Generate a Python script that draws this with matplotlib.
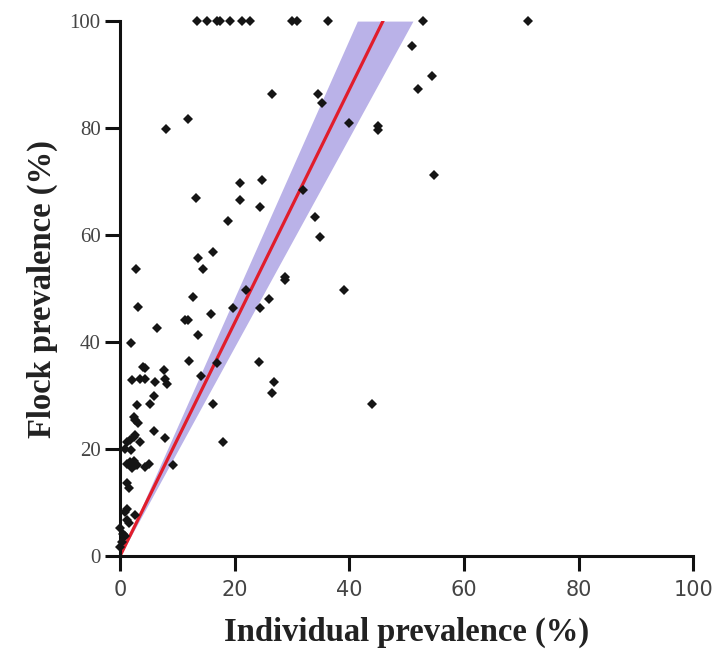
import numpy as np
import matplotlib
matplotlib.use('Agg')
import matplotlib.pyplot as plt

# individual vs flock prevalence (%)
ind_prev = [13.4, 15.2, 16.9, 17.4, 19.2, 21.3, 22.7, 30.0, 30.9, 36.3, 52.9, 71.1,
            51.0, 54.4, 52.0, 26.6, 34.5, 35.2, 11.8, 8.1, 39.9, 45.0, 45.0, 54.7,
            20.9, 24.8, 31.9, 13.3, 20.9, 24.4, 34.1, 18.8, 34.9, 16.3, 13.6, 14.4,
            2.8, 28.8, 28.8, 39.0, 21.9, 12.8, 26.0, 19.8, 24.4, 3.1, 15.9, 11.3,
            11.9, 6.4, 13.6, 2.0, 12.0, 17.0, 24.2, 4.1, 4.4, 7.6, 14.1, 2.1,
            3.5, 4.4, 6.1, 7.8, 8.2, 26.9, 26.5, 5.9, 5.3, 3.0, 16.3, 43.9,
            2.4, 2.7, 3.1, 5.9, 7.9, 17.9, 1.8, 2.4, 2.7, 3.5, 1.2, 0.9,
            2.0, 1.2, 1.8, 2.4, 2.7, 2.1, 3.0, 4.4, 5.0, 9.2, 1.2, 1.5,
            1.2, 0.8, 2.7, 1.2, 1.5, 0.0, 0.6, 0.9, 0.3, 0.0]
flock_prev = [100, 100, 100, 100, 100, 100, 100, 100, 100, 100, 100, 100,
              95.4, 89.7, 87.3, 86.4, 86.4, 84.6, 81.7, 79.8, 81.0, 80.4, 79.7, 71.2,
              69.7, 70.3, 68.5, 66.9, 66.6, 65.2, 63.4, 62.6, 59.7, 56.9, 55.8, 53.6,
              53.6, 51.6, 52.1, 49.8, 49.7, 48.5, 48.0, 46.3, 46.4, 46.5, 45.2, 44.2,
              44.2, 42.7, 41.3, 39.8, 36.5, 36.1, 36.2, 35.4, 35.1, 34.8, 33.6, 32.9,
              33.2, 33.2, 32.6, 33.2, 32.1, 32.5, 30.5, 30.0, 28.5, 28.2, 28.4, 28.4,
              26.0, 25.4, 24.9, 23.4, 22.0, 21.4, 21.7, 22.2, 22.6, 21.4, 21.4, 20.1,
              19.9, 17.3, 17.6, 17.8, 17.0, 16.4, 17.0, 16.7, 17.3, 17.0, 13.6, 12.7,
              8.9, 8.3, 7.7, 6.7, 6.2, 5.2, 4.2, 3.7, 2.7, 1.7]

# regression through origin and its confidence limits on the slope
slope = 2.18
slope_lo = 1.957
slope_hi = 2.415

fig = plt.figure(figsize=(7.14, 6.59), dpi=100)
ax = fig.add_axes([0.168, 0.156, 0.803, 0.812])

yy = np.linspace(0, 100, 50)
ax.fill_betweenx(yy, yy / slope_hi, yy / slope_lo, color='#bab2e8', lw=0, zorder=1)
ax.plot([0, 100 / slope], [0, 100], color='#e11d2b', lw=2.3, zorder=2)
ax.plot(ind_prev, flock_prev, 'D', color='#151515', ms=5, mew=0, zorder=3, clip_on=False)

ax.set_xlim(0, 100)
ax.set_ylim(0, 100)
ax.set_xticks([0, 20, 40, 60, 80, 100])
ax.set_yticks([0, 20, 40, 60, 80, 100])
for s in ['top', 'right']:
    ax.spines[s].set_visible(False)
for s in ['left', 'bottom']:
    ax.spines[s].set_linewidth(2.2)
    ax.spines[s].set_color('#111111')
ax.tick_params(length=11, width=2.2, color='#111111', direction='out')
ax.tick_params(axis='x', pad=6)
ax.tick_params(axis='y', pad=3)
for lab in ax.get_xticklabels():
    lab.set_family('Liberation Sans Narrow')
    lab.set_fontsize(15)
    lab.set_color('#444444')
for lab in ax.get_yticklabels():
    lab.set_family('Liberation Serif')
    lab.set_fontsize(15)
    lab.set_color('#444444')

ax.set_xlabel('Individual prevalence (%)', family='Liberation Serif', fontweight='bold',
              fontsize=23.5, color='#222222', labelpad=12)
ax.set_ylabel('Flock prevalence (%)', family='Liberation Serif', fontweight='bold',
              fontsize=23.5, color='#222222', labelpad=8)

plt.savefig('out.png', dpi=100)
